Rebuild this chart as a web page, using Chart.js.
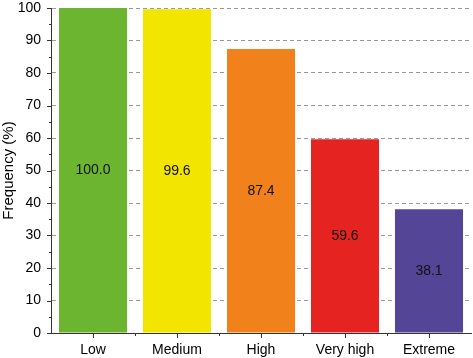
<!DOCTYPE html>
<html><head><meta charset="utf-8">
<script src="https://cdn.jsdelivr.net/npm/chart.js@4"></script>
<style>html,body{margin:0;padding:0;background:#fff}#wrap{width:473px;height:358px}</style>
</head><body><div id="wrap"><canvas id="c" width="473" height="358"></canvas></div>
<script>
const categories = ["Low", "Medium", "High", "Very high", "Extreme"];
const frequency = [100.0, 99.6, 87.4, 59.6, 38.1];
const barColors = ["#6bb531", "#f2e500", "#f0811b", "#e52421", "#554596"];
const yTicks = [0, 10, 20, 30, 40, 50, 60, 70, 80, 90, 100];
const yTitle = "Frequency (%)";

const FONT = "'Liberation Sans', Arial, sans-serif";

const tickPlugin = {
  id: 'tickMarks',
  afterDraw(chart) {
    const ctx = chart.ctx, x = chart.scales.x, y = chart.scales.y;
    ctx.save();
    ctx.strokeStyle = '#333';
    ctx.lineWidth = 1;
    ctx.beginPath();
    for (let v = y.min; v <= y.max; v += 5) {
      const p = Math.round(y.getPixelForValue(v)) + 0.5;
      const len = (v % 10 === 0) ? 4 : 2;
      ctx.moveTo(y.right - len, p); ctx.lineTo(y.right, p);
    }
    const n = categories.length;
    for (let i = 0; i < n; i++) {
      const p = Math.round(x.getPixelForValue(i)) + 0.5;
      ctx.moveTo(p, x.top); ctx.lineTo(p, x.top + 5);
      if (i < n - 1) {
        const q = Math.round((x.getPixelForValue(i) + x.getPixelForValue(i + 1)) / 2) + 0.5;
        ctx.moveTo(q, x.top); ctx.lineTo(q, x.top + 3);
      }
    }
    ctx.stroke();
    ctx.restore();
  }
};

const labelPlugin = {
  id: 'barLabels',
  afterDatasetsDraw(chart) {
    const ctx = chart.ctx;
    const meta = chart.getDatasetMeta(0);
    ctx.save();
    ctx.font = "14px " + FONT;
    ctx.fillStyle = '#111';
    ctx.textAlign = 'center';
    ctx.textBaseline = 'middle';
    meta.data.forEach((bar, i) => {
      const cy = (bar.y + bar.base) / 2;
      ctx.fillText(frequency[i].toFixed(1), bar.x, cy);
    });
    ctx.restore();
  }
};

new Chart(document.getElementById('c'), {
  type: 'bar',
  data: {
    labels: categories,
    datasets: [{
      data: frequency,
      backgroundColor: barColors,
      borderWidth: 0,
      categoryPercentage: 1.0,
      barPercentage: 0.81
    }]
  },
  options: {
    responsive: false,
    animation: false,
    devicePixelRatio: 1,
    layout: { padding: { top: 0, right: 2, left: 0, bottom: 0 } },
    plugins: { legend: { display: false }, tooltip: { enabled: false } },
    scales: {
      x: {
        grid: { display: false, drawTicks: false },
        border: { display: true, color: '#333', width: 1 },
        ticks: { color: '#000', font: { family: FONT, size: 14 }, padding: 9, maxRotation: 0 },
        afterFit(s) { s.height = 25; }
      },
      y: {
        min: 0, max: 100,
        afterBuildTicks(s) { s.ticks = yTicks.map(v => ({ value: v })); },
        grid: {
          drawTicks: false,
          color: (c) => c.tick && c.tick.value === 0 ? 'rgba(0,0,0,0)' : '#999999',
          lineWidth: 1
        },
        border: { display: true, color: '#333', width: 1, dash: [4, 3] },
        ticks: { color: '#000', font: { family: FONT, size: 14 }, padding: 10 },
        title: { display: true, text: yTitle, color: '#000', font: { family: FONT, size: 15 }, padding: { top: 0, bottom: 0 } },
        afterFit(s) { s.width = 51; s.paddingTop = 8; s.paddingBottom = 0; }
      }
    }
  },
  plugins: [tickPlugin, labelPlugin]
});
</script>
</body></html>
